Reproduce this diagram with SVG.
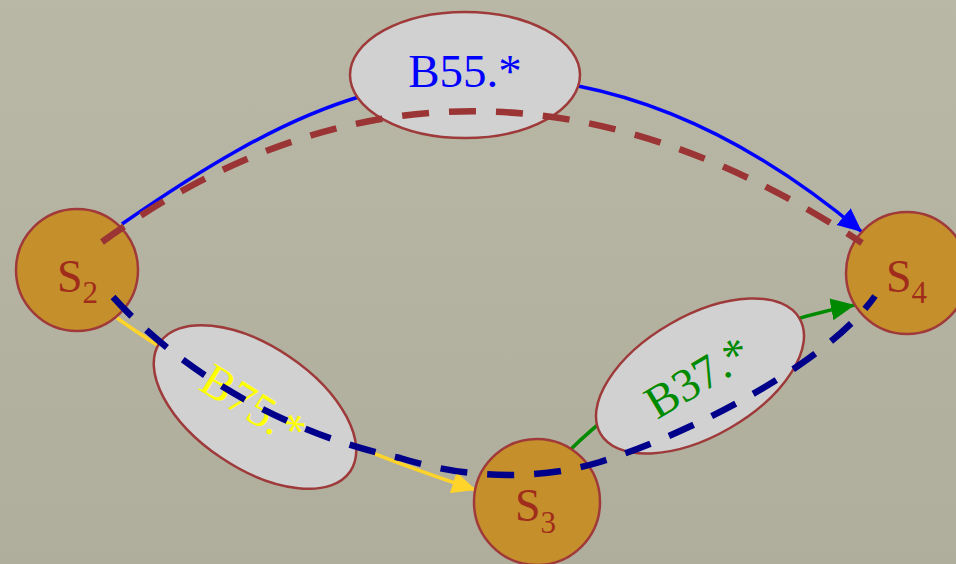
<svg xmlns="http://www.w3.org/2000/svg" width="956" height="564" viewBox="0 0 956 564">
<defs>
<linearGradient id="bg" x1="0" y1="0" x2="0" y2="1">
<stop offset="0" stop-color="#b9b8a6"/>
<stop offset="1" stop-color="#afae9c"/>
</linearGradient>
<marker id="ahBlue" markerUnits="userSpaceOnUse" markerWidth="26" markerHeight="24" viewBox="0 0 26 24" refX="24" refY="12" orient="auto"><path d="M0,1 L24,12 L0,23 z" fill="#0000ff"/></marker>
<marker id="ahGreen" markerUnits="userSpaceOnUse" markerWidth="26" markerHeight="24" viewBox="0 0 26 24" refX="24" refY="12" orient="auto"><path d="M0,1 L24,12 L0,23 z" fill="#008a00"/></marker>
<marker id="ahYellow" markerUnits="userSpaceOnUse" markerWidth="26" markerHeight="24" viewBox="0 0 26 24" refX="24" refY="12" orient="auto"><path d="M0,1 L24,12 L0,23 z" fill="#ffd42a"/></marker>
</defs>
<style>
.state{fill:#c58f2b;stroke:#a03a3a;stroke-width:2.5}
.slabel{font-family:"Liberation Serif","Times New Roman",serif;font-size:46px;fill:#a02c1c}
.sub{font-size:31px}
.blk{fill:#d1d1d1;stroke:#9e3a3a;stroke-width:2.5}
.blabel{font-family:"Liberation Serif","Times New Roman",serif;font-size:47px;text-anchor:middle}
.solid{fill:none;stroke-width:3.5}
.dash{fill:none;stroke-width:6.5;stroke-dasharray:27 20}
</style>
<rect x="0" y="0" width="956" height="564" fill="url(#bg)"/>
<g id="connectors">
<path class="solid" d="M122,224 C200,170 280,120 362,96" stroke="#0000ff"/>
<path class="solid" d="M578,86 C700,110 800,180 862,232" stroke="#0000ff" marker-end="url(#ahBlue)"/>
<path class="solid" d="M117,318 Q260,420 476,490" stroke="#ffd42a" stroke-width="4" marker-end="url(#ahYellow)"/>
<path class="solid" d="M568,452 C620,400 720,330 855,305" stroke="#008a00" stroke-width="4" marker-end="url(#ahGreen)"/>
</g>
<g id="S2"><circle class="state" cx="77" cy="270" r="61"/><text class="slabel" x="57" y="292">S<tspan class="sub" dy="11">2</tspan></text></g>
<g id="S4"><circle class="state" cx="907" cy="273" r="61"/><text class="slabel" x="886" y="292">S<tspan class="sub" dy="11">4</tspan></text></g>
<g id="S3"><circle class="state" cx="537" cy="502" r="63"/><text class="slabel" x="515" y="521">S<tspan class="sub" dy="12">3</tspan></text></g>
<g id="B55"><ellipse class="blk" cx="465" cy="75" rx="115" ry="63"/><text class="blabel" x="465" y="87" fill="#0000ff">B55.*</text></g>
<g id="B75"><ellipse class="blk" cx="255" cy="407" rx="115" ry="61" transform="rotate(34 255 407)"/><text class="blabel" transform="translate(253,406) rotate(32)" x="0" y="15" fill="#ffff00">B75.*</text></g>
<g id="B37"><ellipse class="blk" cx="700" cy="376" rx="115" ry="60" transform="rotate(-30 700 376)"/><text class="blabel" transform="translate(698,378) rotate(-31)" x="0" y="15" fill="#008a00">B37.*</text></g>
<g id="paths">
<path class="dash" d="M102,242 Q465,-20 862,243" stroke="#9b3535"/>
<path class="dash" d="M113,297 C170,360 270,430 400,458 C470,480 540,480 600,462 C700,430 830,360 875,296" stroke="#00008b" stroke-width="7"/>
</g>
</svg>
